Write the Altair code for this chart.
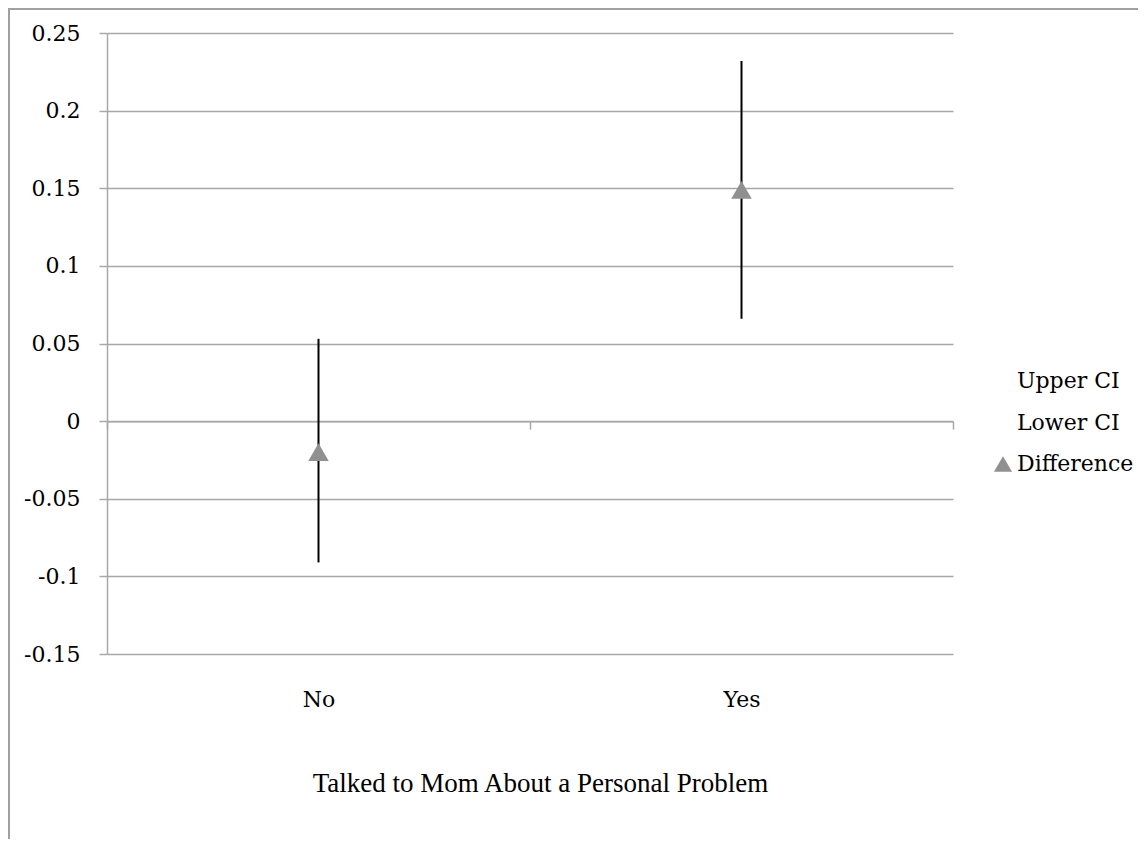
import altair as alt
import pandas as pd

categories = ["No", "Yes"]
difference = [-0.02, 0.149]
lower_ci = [-0.091, 0.066]
upper_ci = [0.053, 0.232]
series_names = ["Upper CI", "Lower CI", "Difference"]
y_ticks = [-0.15, -0.1, -0.05, 0, 0.05, 0.1, 0.15, 0.2, 0.25]

df = pd.DataFrame({
    "cat": categories,
    "diff": difference,
    "lo": lower_ci,
    "hi": upper_ci,
    "series": ["Difference"] * len(categories),
})

GRID = "#a8a8a8"
W, H = 846, 621

x_enc = alt.X(
    "cat:N",
    sort=categories,
    scale=alt.Scale(paddingInner=0, paddingOuter=0),
    axis=alt.Axis(
        orient="bottom",
        offset=-(H - H * 0.25 / 0.4),
        tickBand="extent",
        tickSize=8,
        tickColor=GRID,
        tickWidth=1.5,
        domainColor=GRID,
        domainWidth=1.5,
        grid=False,
        labelAngle=0,
        labelFont="DejaVu Serif",
        labelFontSize=22,
        labelColor="black",
        labelBaseline="middle",
        labelPadding=270,
        title="Talked to Mom About a Personal Problem",
        titleFont="Liberation Serif",
        titleFontSize=27,
        titleFontWeight="normal",
        titleColor="black",
        titleX=433,
        titleY=362,
        titleAlign="center",
        titleBaseline="middle",
    ),
)

y_scale = alt.Scale(domain=[-0.15, 0.25], nice=False, zero=False)
y_axis = alt.Axis(
    values=y_ticks,
    labelExpr="'' + datum.value",
    grid=True,
    gridColor=GRID,
    gridWidth=1.5,
    domainColor=GRID,
    domainWidth=1.5,
    tickColor=GRID,
    tickWidth=1.5,
    tickSize=8,
    labelPadding=19,
    labelFont="DejaVu Serif",
    labelFontSize=22,
    labelColor="black",
    title=None,
)

bars = alt.Chart(df).mark_rule(color="black", strokeWidth=2).encode(
    x=x_enc,
    y=alt.Y("lo:Q", scale=y_scale, axis=y_axis),
    y2="hi:Q",
)

points = alt.Chart(df).mark_point(
    shape="triangle-up", filled=True, size=420, opacity=1
).encode(
    x=alt.X("cat:N", sort=categories),
    y=alt.Y("diff:Q", scale=y_scale),
    color=alt.Color(
        "series:N",
        scale=alt.Scale(domain=series_names, range=["transparent", "transparent", "#909090"]),
        legend=alt.Legend(
            title=None,
            orient="none",
            legendX=885,
            legendY=337,
            padding=0,
            symbolType="triangle-up",
            symbolSize=330,
            symbolStrokeWidth=0,
            labelFont="DejaVu Serif",
            labelFontSize=22,
            labelColor="black",
            labelOffset=3,
            rowPadding=19.5,
        ),
    ),
)

frame_top = alt.Chart(df).mark_rule(color="#a0a0a0", strokeWidth=2).encode(
    x=alt.value(-99), x2=alt.value(1040), y=alt.value(-24)
)
frame_left = alt.Chart(df).mark_rule(color="#a0a0a0", strokeWidth=2).encode(
    x=alt.value(-98), y=alt.value(-25), y2=alt.value(815)
)

chart = alt.layer(frame_top, frame_left, bars, points).properties(
    width=W,
    height=H,
    autosize=alt.AutoSizeParams(type="none"),
    padding={"left": 99, "top": 25, "right": 185, "bottom": 185},
).configure_view(stroke=None)

chart.save("out.html", embed_options={"renderer": "svg", "actions": False})
